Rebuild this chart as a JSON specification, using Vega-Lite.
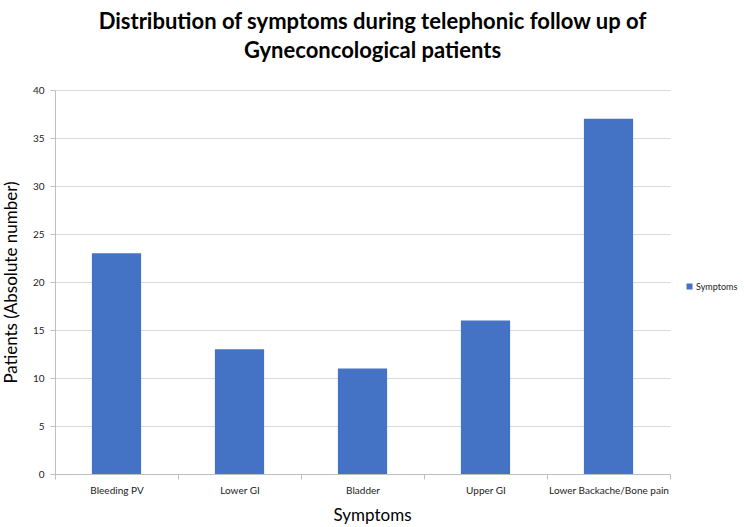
{
  "$schema": "https://vega.github.io/schema/vega-lite/v6.json",
  "width": 615,
  "height": 384,
  "autosize": {"type": "none"},
  "padding": {"left": 55, "top": 90, "right": 74, "bottom": 53},
  "background": "white",
  "title": {
    "text": ["Distribution of symptoms during telephonic follow up of", "Gyneconcological patients"],
    "font": "Lato",
    "fontSize": 22,
    "fontWeight": "bold",
    "color": "#000000",
    "anchor": "middle",
    "frame": "group",
    "dx": 10,
    "offset": 22,
    "lineHeight": 29
  },
  "data": {
    "values": [
      {"symptom": "Bleeding PV", "patients": 23, "series": "Symptoms"},
      {"symptom": "Lower GI", "patients": 13, "series": "Symptoms"},
      {"symptom": "Bladder", "patients": 11, "series": "Symptoms"},
      {"symptom": "Upper GI", "patients": 16, "series": "Symptoms"},
      {"symptom": "Lower Backache/Bone pain", "patients": 37, "series": "Symptoms"}
    ]
  },
  "mark": {"type": "bar", "width": {"band": 0.4}},
  "encoding": {
    "x": {
      "field": "symptom",
      "type": "nominal",
      "sort": null,
      "scale": {"paddingInner": 0, "paddingOuter": 0},
      "axis": {
        "title": "Symptoms",
        "labelAngle": 0,
        "tickBand": "extent",
        "domainColor": "#bfbfbf",
        "tickColor": "#bfbfbf",
        "tickSize": 5,
        "labelFontSize": 10,
        "labelColor": "#222222",
        "labelPadding": 6,
        "titleFontSize": 17,
        "titleFontWeight": "normal",
        "titleColor": "#000000",
        "titlePadding": 12,
        "titleX": 317
      }
    },
    "y": {
      "field": "patients",
      "type": "quantitative",
      "scale": {"domain": [0, 40], "nice": false},
      "axis": {
        "values": [0, 5, 10, 15, 20, 25, 30, 35, 40],
        "title": "Patients (Absolute number)",
        "gridColor": "#d9d9d9",
        "domainColor": "#bfbfbf",
        "tickColor": "#bfbfbf",
        "tickSize": 5,
        "labelFontSize": 10,
        "labelColor": "#222222",
        "labelPadding": 6,
        "titleFontSize": 17,
        "titleFontWeight": "normal",
        "titleColor": "#000000",
        "titlePadding": 12
      }
    },
    "color": {
      "field": "series",
      "type": "nominal",
      "scale": {"range": ["#4472C4"]},
      "legend": {
        "title": null,
        "orient": "none",
        "legendX": 630,
        "legendY": 192,
        "symbolType": "square",
        "symbolSize": 36,
        "labelFontSize": 9,
        "labelColor": "#222222",
        "labelOffset": 2,
        "padding": 0
      }
    }
  },
  "config": {"view": {"stroke": null}, "font": "Lato"}
}
